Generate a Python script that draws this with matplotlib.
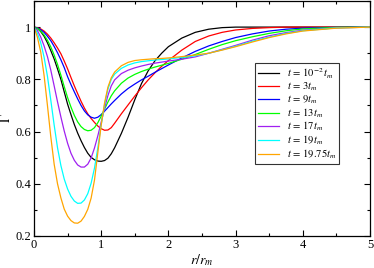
import matplotlib
matplotlib.use("Agg")
import matplotlib.pyplot as plt
from matplotlib.ticker import MultipleLocator

plt.rcParams['font.family'] = ['Liberation Serif', 'DejaVu Serif']
plt.rcParams['mathtext.fontset'] = 'stix'

# r / r_m sample positions
r = [0.0, 0.05, 0.1, 0.15, 0.2, 0.25, 0.3, 0.35, 0.4, 0.45, 0.5, 0.55, 0.6,
     0.65, 0.7, 0.75, 0.8, 0.85, 0.9, 0.95, 1.0, 1.05, 1.1, 1.15, 1.2,
     1.3, 1.4, 1.5, 1.6, 1.7, 1.8, 1.9, 2.0, 2.2, 2.4, 2.6, 2.8, 3.0,
     3.25, 3.5, 3.75, 4.0, 4.5, 5.0]

g_t001 = [1.0, 0.995, 0.983, 0.965, 0.94, 0.91, 0.878, 0.84, 0.80, 0.752, 0.705, 0.665, 0.627,
          0.594, 0.565, 0.539, 0.517, 0.501, 0.492, 0.487, 0.486, 0.489, 0.498, 0.515, 0.538,
          0.593, 0.655, 0.722, 0.784, 0.833, 0.871, 0.90, 0.925, 0.958, 0.98, 0.992, 0.998, 1.0,
          1.0, 1.0, 1.0, 1.0, 1.0, 1.0]
g_t3 = [1.0, 0.998, 0.993, 0.985, 0.973, 0.958, 0.94, 0.92, 0.898, 0.87, 0.84, 0.807, 0.775,
        0.745, 0.716, 0.69, 0.668, 0.65, 0.635, 0.621, 0.611, 0.605, 0.606, 0.615, 0.632,
        0.668, 0.702, 0.736, 0.768, 0.798, 0.825, 0.85, 0.872, 0.912, 0.945, 0.966, 0.98, 0.989,
        0.995, 0.998, 1.0, 1.0, 1.0, 1.0]
g_t9 = [1.0, 0.997, 0.99, 0.98, 0.965, 0.948, 0.926, 0.902, 0.875, 0.845, 0.81, 0.78, 0.752,
        0.725, 0.7, 0.679, 0.664, 0.655, 0.651, 0.655, 0.665, 0.678, 0.692, 0.706, 0.719,
        0.744, 0.765, 0.782, 0.798, 0.812, 0.827, 0.841, 0.855, 0.882, 0.907, 0.928, 0.945, 0.96,
        0.974, 0.985, 0.992, 0.996, 0.999, 1.0]
g_t13 = [1.0, 0.995, 0.985, 0.97, 0.95, 0.924, 0.893, 0.857, 0.816, 0.772, 0.73, 0.694, 0.662,
         0.637, 0.619, 0.608, 0.603, 0.605, 0.615, 0.634, 0.659, 0.686, 0.713, 0.737, 0.756,
         0.785, 0.805, 0.819, 0.83, 0.839, 0.847, 0.854, 0.861, 0.877, 0.895, 0.915, 0.933, 0.948,
         0.963, 0.976, 0.986, 0.993, 0.999, 1.0]
g_t17 = [1.0, 0.987, 0.962, 0.928, 0.887, 0.835, 0.775, 0.714, 0.656, 0.602, 0.555, 0.517, 0.49,
         0.472, 0.464, 0.464, 0.475, 0.499, 0.537, 0.584, 0.636, 0.69, 0.738, 0.775, 0.798,
         0.822, 0.835, 0.844, 0.851, 0.857, 0.862, 0.866, 0.87, 0.877, 0.886, 0.90, 0.915, 0.93,
         0.95, 0.967, 0.979, 0.988, 0.997, 1.0]
g_t19 = [1.0, 0.977, 0.94, 0.885, 0.812, 0.72, 0.625, 0.538, 0.47, 0.418, 0.38, 0.352, 0.334,
         0.325, 0.326, 0.338, 0.362, 0.402, 0.46, 0.538, 0.626, 0.703, 0.762, 0.8, 0.82,
         0.842, 0.855, 0.863, 0.868, 0.871, 0.874, 0.876, 0.878, 0.884, 0.89, 0.90, 0.913, 0.927,
         0.946, 0.962, 0.976, 0.986, 0.997, 1.0]
g_t1975 = [1.0, 0.962, 0.905, 0.815, 0.70, 0.58, 0.475, 0.4, 0.346, 0.303, 0.276, 0.259, 0.25,
           0.249, 0.257, 0.275, 0.302, 0.345, 0.414, 0.52, 0.625, 0.71, 0.77, 0.806, 0.828,
           0.852, 0.865, 0.872, 0.875, 0.877, 0.879, 0.88, 0.882, 0.887, 0.893, 0.90, 0.912, 0.925,
           0.943, 0.96, 0.974, 0.985, 0.996, 1.0]

series = [g_t001, g_t3, g_t9, g_t13, g_t17, g_t19, g_t1975]
labels = [r'$t\,=\,10^{-2}\,t_m$', r'$t\,=\,3t_m$', r'$t\,=\,9t_m$', r'$t\,=\,13t_m$',
          r'$t\,=\,17t_m$', r'$t\,=\,19t_m$', r'$t\,=\,19.75t_m$']
colors = ['black', '#ff0000', '#0000ff', '#00ff00', '#a020f0', '#00ffff', '#ffa500']

fig = plt.figure(figsize=(3.74, 2.68), dpi=100)
ax = fig.add_axes([34 / 374, 32 / 268, 336 / 374, 235 / 268])

for ys, lab, c in zip(series, labels, colors):
    ax.plot(r, ys, color=c, lw=0.9, label=lab)

ax.set_xlim(0, 5)
ax.set_ylim(0.2, 1.1)
ax.xaxis.set_major_locator(MultipleLocator(1))
ax.xaxis.set_minor_locator(MultipleLocator(0.5))
ax.yaxis.set_minor_locator(MultipleLocator(0.1))
ax.set_yticks([0.2, 0.4, 0.6, 0.8, 1.0])
ax.set_yticklabels(['0.2', '0.4', '0.6', '0.8', '1'])
ax.tick_params(which='both', direction='in', top=True, right=True, labelsize=9, pad=2)
ax.tick_params(which='major', length=4.5, width=0.8)
ax.tick_params(which='minor', length=2.3, width=0.8)
for s in ax.spines.values():
    s.set_linewidth(0.9)

ax.set_xlabel(r'$r/r_m$', fontsize=10, labelpad=1)
ax.set_ylabel(r'$\Gamma$', fontsize=10)
ax.yaxis.set_label_coords(-0.062, 0.5)

leg = ax.legend(loc='upper left', bbox_to_anchor=(0.658, 0.736), fontsize=7.6,
                frameon=True, fancybox=False, handlelength=2.0, handletextpad=0.7,
                labelspacing=0.02, borderpad=0.3, borderaxespad=0)
leg.get_frame().set_edgecolor('black')
leg.get_frame().set_linewidth(0.8)

fig.savefig('out.png', dpi=100)
